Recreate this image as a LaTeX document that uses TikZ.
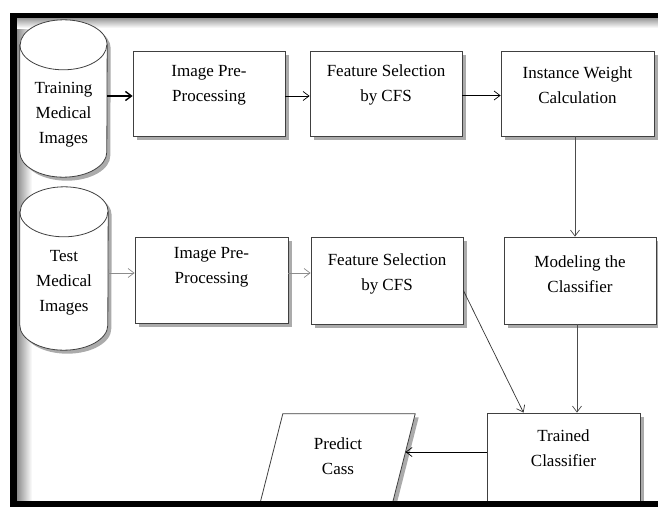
\documentclass[tikz,border=0pt]{standalone}
\usepackage{fontspec}
\setmainfont{Liberation Serif}
\newfontfamily\lblfont{Liberation Serif}
\usetikzlibrary{arrows.meta,shadows}
\tikzset{
  shad/.style={drop shadow={shadow xshift=3.5pt, shadow yshift=-3.5pt, fill=black!55, opacity=0.6}},
  box/.style={draw=black!75, fill=white, line width=0.8pt, minimum width=152pt, minimum height=85pt, inner sep=0pt, shad},
  lbl/.style={align=center, font=\lblfont\fontsize{17}{25}\selectfont, inner sep=0pt},
  area/.style={minimum width=87pt, minimum height=157pt, inner sep=0pt},
  cyl/.style={draw=black!75, fill=white, line width=0.8pt, shad},
  arr/.style={-{Straight Barb[length=6pt,width=9pt]}, line width=0.7pt},
  garr/.style={arr, draw=black!45},
}
\begin{document}
\begin{tikzpicture}[x=1pt, y=-1pt]
\useasboundingbox (0,0) rectangle (658,506);
% inner shading of the frame
\shade[left color=black!45, right color=white] (17,18) rectangle (32,501);
\shade[top color=black!40, bottom color=white] (17,18) rectangle (658,28);

% cylinders
\node[area] (train) at (63.5,98.5) {};
\draw[cyl] ([yshift=-25pt]train.north west) -- ([yshift=25pt]train.south west)
  arc[start angle=180, end angle=360, x radius=43.5pt, y radius=25pt]
  -- ([yshift=-25pt]train.north east)
  arc[start angle=0, end angle=180, x radius=43.5pt, y radius=25pt] -- cycle;
\draw[draw=black!75, line width=0.8pt] ([yshift=-25pt]train.north west)
  arc[start angle=180, end angle=360, x radius=43.5pt, y radius=25pt];
\node[lbl] (trainT) at (63.5,115) {Training\\Medical\\Images};

\node[area, minimum height=163pt, minimum width=88pt] (test) at (64,268.5) {};
\draw[cyl] ([yshift=-25pt]test.north west) -- ([yshift=25pt]test.south west)
  arc[start angle=180, end angle=360, x radius=44pt, y radius=25pt]
  -- ([yshift=-25pt]test.north east)
  arc[start angle=0, end angle=180, x radius=44pt, y radius=25pt] -- cycle;
\draw[draw=black!75, line width=0.8pt] ([yshift=-25pt]test.north west)
  arc[start angle=180, end angle=360, x radius=44pt, y radius=25pt];
\node[lbl] (testT) at (64,283) {Test\\Medical\\Images};

% boxes, top row
\node[box] (ipp1) at (209,93.5) {};
\node[lbl] (ipp1T) at (209,85) {Image Pre-\\Processing};
\node[box] (fs1) at (386,93.5) {};
\node[lbl] (fs1T) at (386,85) {Feature Selection\\by CFS};
\node[box, minimum width=153pt] (iw) at (577.5,93.5) {};
\node[lbl] (iwT) at (577.5,85) {Instance Weight\\Calculation};

% boxes, second row
\node[box, minimum width=153pt, minimum height=86pt] (ipp2) at (211.5,280) {};
\node[lbl] (ipp2T) at (211.5,267) {Image Pre-\\Processing};
\node[box, minimum height=87pt] (fs2) at (387,280.5) {};
\node[lbl] (fs2T) at (387,274) {Feature Selection\\by CFS};
\node[box, minimum height=87pt] (mod) at (580,280.5) {};
\node[lbl] (modT) at (580,274) {Modeling the\\Classifier};

% bottom row
\node[box, minimum width=153pt, minimum height=95pt] (trained) at (563.5,460.5) {};
\node[lbl] (trainedT) at (563.5,448) {Trained\\Classifier};
\node[area, minimum width=155.5pt, minimum height=92pt] (predict) at (337.25,460) {};
\draw[cyl] ([xshift=23.5pt]predict.north west) -- (predict.north east)
  -- ([xshift=-23.5pt]predict.south east) -- (predict.south west) -- cycle;
\path (predict.north east) -- ([xshift=-23.5pt]predict.south east) coordinate[pos=0.413] (pe);
\node[lbl] (predictT) at (338,456.5) {Predict\\Cass};

% connectors
\path ([yshift=-2.5pt]ipp1.west) coordinate (a1);
\draw[arr, line width=1.4pt] (train.east |- a1) -- (a1);
\draw[arr] ([yshift=-2.5pt]ipp1.east) -- ([yshift=-2.5pt]fs1.west);
\draw[arr] ([yshift=-2pt]fs1.east) -- ([yshift=-2pt]iw.west);
\draw[arr, draw=black!70] ([xshift=-2.5pt]iw.south) -- ([xshift=-2.5pt]iw.south |- mod.north);

\path ([yshift=7pt]ipp2.west) coordinate (a2);
\draw[garr] (test.east |- a2) -- (a2);
\draw[garr] ([yshift=7pt]ipp2.east) -- ([yshift=7.5pt]fs2.west);

\draw[arr, draw=black!80] ([yshift=-10pt]fs2.east) -- ([xshift=-40pt]trained.north);
\draw[arr, draw=black!70] ([xshift=-3pt]mod.south) -- ([xshift=-3pt]mod.south |- trained.north);
\path ([yshift=8.5pt]trained.west) coordinate (a3);
\draw[arr] (a3) -- (a3 -| pe);

% black frame
\fill[black] (10,12.5) rectangle (660,18);
\fill[black] (10,12.5) rectangle (17,512);
\fill[black] (10,500.5) rectangle (660,512);
\end{tikzpicture}
\end{document}
